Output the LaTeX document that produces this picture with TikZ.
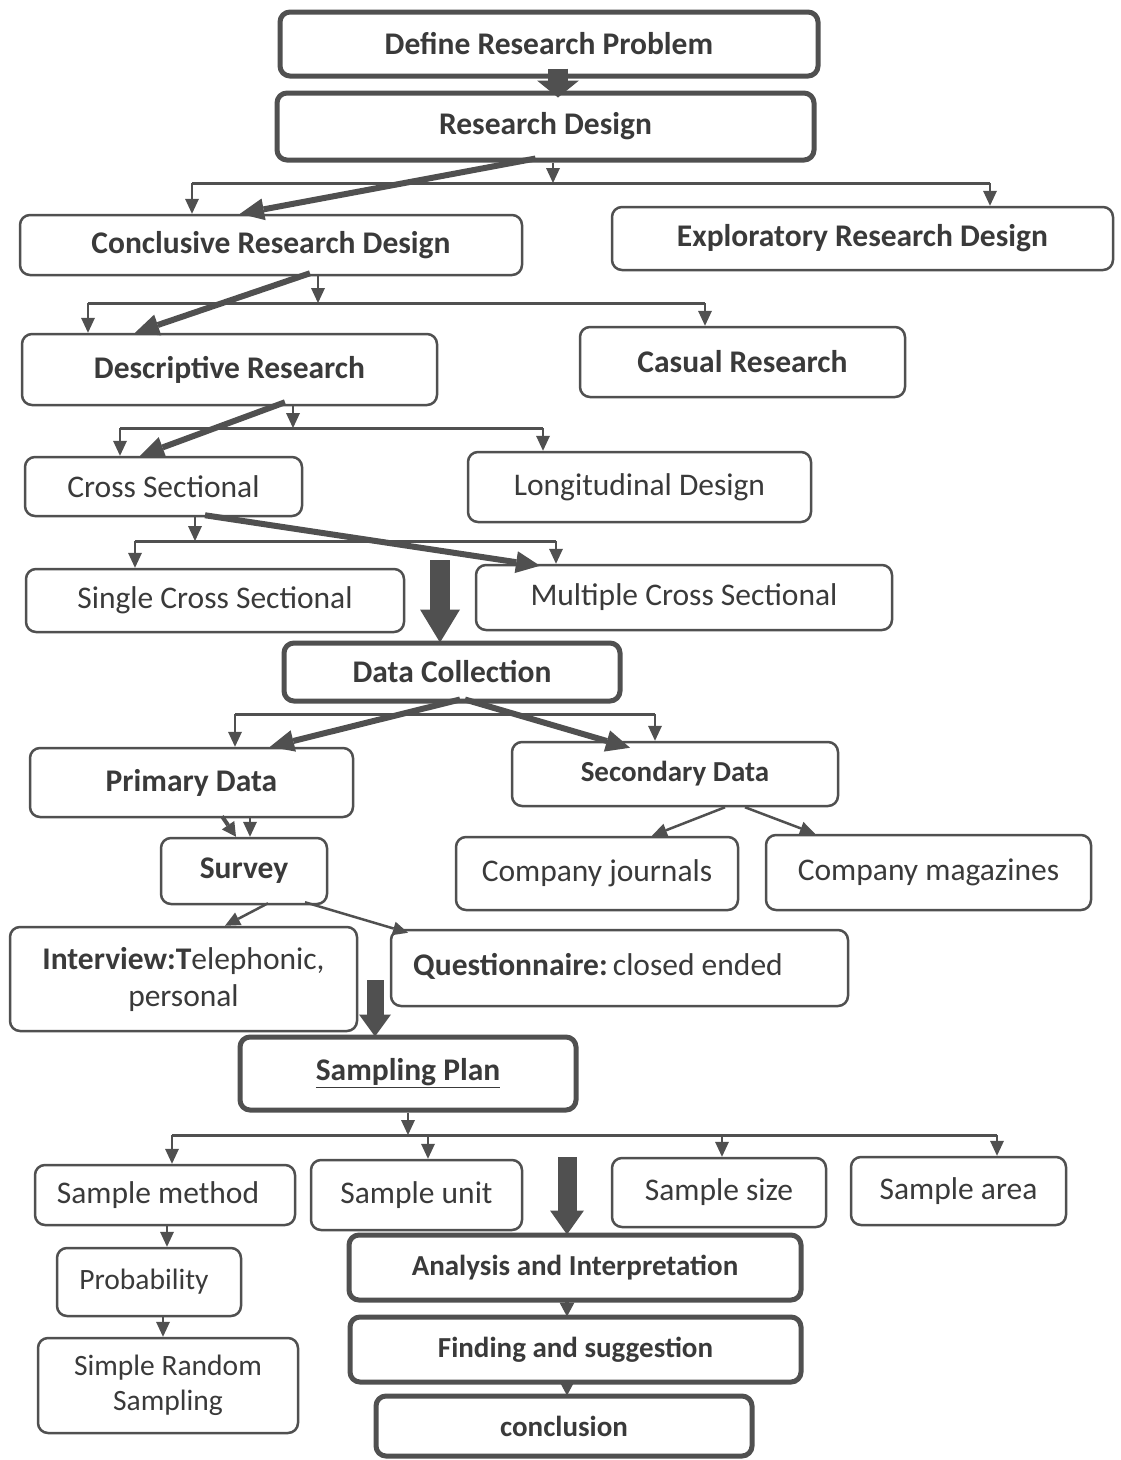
\documentclass[tikz,border=0pt]{standalone}
\usepackage{fontspec}
\setmainfont{Carlito}
\usetikzlibrary{arrows.meta,calc}
\definecolor{ln}{HTML}{505050}
\definecolor{tx}{HTML}{3A3A3A}
\begin{document}
\begin{tikzpicture}[x=1pt,y=-1pt,
  box/.style={draw=ln,line width=2.5pt,rounded corners=10pt,fill=white,text=tx,inner sep=0pt,align=center,font=\fontsize{31.5}{37}\selectfont},
  tbox/.style={box,line width=5pt},
  bf/.style={font=\bfseries\fontsize{31.5}{37}\selectfont},
  bfs/.style={font=\bfseries\fontsize{29}{35}\selectfont},
  sm/.style={font=\fontsize{29.5}{35}\selectfont},
  lbl/.style={text=tx,inner sep=0pt,font=\fontsize{31.5}{37}\selectfont},
  tarr/.style={draw=ln,line width=2.5pt,-{Triangle[length=15pt,width=14pt,line width=0pt]}},
  marr/.style={draw=ln,line width=4pt,-{Triangle[length=14pt,width=15pt,line width=0pt]}},
  bus/.style={draw=ln,line width=3pt},
  darr/.style={draw=ln,line width=6pt,-{Triangle[length=24pt,width=22pt,line width=0pt]}},
  barr/.style={draw=ln,line width=20pt,-{Triangle[length=33pt,width=40pt,line width=0pt]}}
]
\useasboundingbox (0,0) rectangle (1120,1460);
\fill[white] (0,0) rectangle (1120,1460);

% nodes
\node[tbox,bf,minimum width=538pt,minimum height=64pt] (def) at (549,44) {\raisebox{-2pt}{Define Research Problem}};
\node[tbox,bf,minimum width=537pt,minimum height=67pt] (rd) at (545.5,126.5) {\raisebox{-2pt}{Research Design}};
\node[box,bf,minimum width=502pt,minimum height=60pt] (crd) at (271,245) {Conclusive Research Design};
\node[box,bf,minimum width=501pt,minimum height=63pt] (erd) at (862.5,238.5) {Exploratory Research Design};
\node[box,bf,minimum width=415pt,minimum height=71pt] (dr) at (229.5,369.5) {Descriptive Research};
\node[box,bf,minimum width=325pt,minimum height=70pt] (cr) at (742.5,362) {Casual Research};
\node[box,minimum width=277pt,minimum height=59pt] (cs) at (163.5,486.5) {Cross Sectional};
\node[box,minimum width=343pt,minimum height=70pt] (ld) at (639.5,487) {Longitudinal Design};
\node[box,minimum width=378pt,minimum height=63pt] (scs) at (215,600.5) {Single Cross Sectional};
\node[box,minimum width=416pt,minimum height=65pt] (mcs) at (684,597.5) {Multiple Cross Sectional};
\node[tbox,bf,minimum width=336pt,minimum height=58pt] (dc) at (452,672) {\raisebox{-3pt}{Data Collection}};
\node[box,bf,minimum width=323pt,minimum height=69pt] (pd) at (191.5,782.5) {Primary Data};
\node[box,bfs,minimum width=326pt,minimum height=64pt] (sd) at (675,774) {Secondary Data};
\node[box,bf,minimum width=166pt,minimum height=66pt] (sv) at (244,871) {Survey};
\node[box,minimum width=282pt,minimum height=73pt] (cj) at (597,873.5) {Company journals};
\node[box,minimum width=325pt,minimum height=75pt] (cm) at (928.5,872.5) {Company magazines};
\node[box,minimum width=347pt,minimum height=104pt] (iv) at (183.5,979) {\textbf{Interview:T}elephonic,\\personal};
\node[box,minimum width=457pt,minimum height=76pt] (q) at (619.5,968) {};
\node[lbl] (qt) at (598,966) {\textbf{Questionnaire:}\,closed ended};
\node[tbox,bf,minimum width=336pt,minimum height=73pt] (sp) at (408,1073.5) {\underline{Sampling Plan}};
\node[box,minimum width=260pt,minimum height=60pt] (sm) at (165,1195) {\hspace*{-14pt}Sample method};
\node[box,minimum width=211pt,minimum height=70pt] (su) at (416.5,1195) {Sample unit};
\node[box,minimum width=214pt,minimum height=69pt] (ss) at (719,1192.5) {Sample size};
\node[box,minimum width=215pt,minimum height=68pt] (sa) at (958.5,1191) {Sample area};
\node[box,sm,minimum width=184pt,minimum height=68pt] (pr) at (149,1282) {\hspace*{-10pt}Probability};
\node[box,sm,minimum width=260pt,minimum height=95pt] (srs) at (168,1385.5) {Simple Random\\Sampling};
\node[tbox,bfs,minimum width=452pt,minimum height=65pt] (ai) at (575,1267.5) {Analysis and Interpretation};
\node[tbox,bfs,minimum width=451pt,minimum height=65pt] (fs) at (575.5,1349.5) {Finding and suggestion};
\node[tbox,bfs,minimum width=376pt,minimum height=60pt] (cc) at (564,1426) {\raisebox{-4pt}{conclusion}};

% Define -> Research Design
\draw[barr,-{Triangle[length=17pt,width=42pt,line width=0pt]}] ($(def.south)+(9,-10)$) -- ($(rd.north)+(12.5,7)$);

% Research Design bus
\coordinate (j1) at (553,183);
\coordinate (b1l) at (192,183);
\coordinate (b1r) at (990,183);
\draw[tarr] (j1 |- rd.south) -- (j1);
\draw[bus] (b1l) -- (b1r);
\draw[tarr] (b1l) -- (b1l |- crd.north);
\draw[tarr] (b1r) -- (b1r |- erd.north);
\draw[darr] ($(rd.south)+(-10,-4)$) -- ($(crd.north)+(-31,0)$);

% Conclusive bus
\coordinate (j2) at (318,303);
\coordinate (b2l) at (88,303);
\coordinate (b2r) at (705,303);
\draw[tarr] (j2 |- crd.south) -- (j2);
\draw[bus] (b2l) -- (b2r);
\draw[tarr] (b2l) -- (b2l |- dr.north);
\draw[tarr] (b2r) -- (b2r |- cr.north);
\draw[darr] ($(crd.south)+(39,-3)$) -- ($(dr.north)+(-94.5,0)$);

% Descriptive bus
\coordinate (j3) at (293,428);
\coordinate (b3l) at (120,428);
\coordinate (b3r) at (543,428);
\draw[tarr] (j3 |- dr.south) -- (j3);
\draw[bus] (b3l) -- (b3r);
\draw[tarr] (b3l) -- (b3l |- cs.north);
\draw[tarr] (b3r) -- (b3r |- ld.north);
\draw[darr] ($(dr.south)+(55.5,-4)$) -- ($(cs.north)+(-23.5,0)$);

% Cross sectional bus
\coordinate (j4) at (195,541);
\coordinate (b4l) at (135,541);
\coordinate (b4r) at (556,541);
\draw[tarr] (j4 |- cs.south) -- (j4);
\draw[bus] (b4l) -- (b4r);
\draw[tarr] (b4l) -- (b4l |- scs.north);
\draw[tarr] (b4r) -- (b4r |- mcs.north);
\draw[darr] ($(cs.south)+(41.5,-2)$) -- ($(mcs.north)+(-144,2)$);

% big arrow to Data Collection
\coordinate (ba1) at (440,560);
\draw[barr] (ba1) -- ($(ba1 |- dc.north)+(0,2)$);

% Data collection bus
\coordinate (b5l) at (235,714);
\coordinate (b5r) at (655,714);
\draw[bus] (b5l) -- (b5r);
\draw[tarr] (b5l) -- (b5l |- pd.north);
\draw[tarr] (b5r) -- (b5r |- sd.north);
\draw[darr] ($(dc.south)+(8,-4)$) -- ($(pd.north)+(78.5,0)$);
\draw[darr] ($(dc.south)+(13,-4)$) -- ($(sd.north)+(-45,7)$);

% Primary -> Survey
\draw[marr] ($(pd.south)+(30.5,-2)$) -- ($(sv.north)+(-8,0)$);
\draw[tarr] ($(pd.south)+(58.5,0)$) -- ($(sv.north)+(6,0)$);

% Secondary -> companies
\draw[tarr] ($(sd.south)+(50,0)$) -- ($(cj.north)+(55,0)$);
\draw[tarr] ($(sd.south)+(70,0)$) -- ($(cm.north)+(-113.5,0)$);

% Survey -> interview / questionnaire
\draw[tarr] ($(sv.south)+(24,-2)$) -- ($(iv.north)+(41.5,0)$);
\draw[tarr] ($(sv.south)+(61,-3)$) -- ($(q.north)+(-211.5,4)$);

% big arrow to Sampling Plan
\coordinate (ba2) at (375,980);
\draw[draw=ln,line width=17pt,-{Triangle[length=22pt,width=32pt,line width=0pt]}] (ba2) -- ($(ba2 |- sp.north)+(0,2)$);

% Sampling plan bus
\coordinate (j6) at (408,1135);
\coordinate (b6l) at (172,1135);
\coordinate (b6a) at (428,1135);
\coordinate (b6b) at (722,1135);
\coordinate (b6r) at (997,1135);
\draw[tarr] (j6 |- sp.south) -- (j6);
\draw[bus] (b6l) -- (b6r);
\draw[tarr] (b6l) -- (b6l |- sm.north);
\draw[tarr] (b6a) -- (b6a |- su.north);
\draw[tarr] (b6b) -- (b6b |- ss.north);
\draw[tarr] (b6r) -- (b6r |- sa.north);

% big arrow to Analysis
\coordinate (ba3) at (567,1157);
\draw[draw=ln,line width=19pt,-{Triangle[length=24pt,width=34pt,line width=0pt]}] (ba3) -- ($(ba3 |- ai.north)+(0,2)$);

% left chain
\draw[tarr] ($(sm.south)+(2,0)$) -- ($(pr.north)+(18,0)$);
\draw[tarr] ($(pr.south)+(14,0)$) -- ($(srs.north)+(-5,0)$);

% bottom chain
\draw[marr] ($(ai.south)+(-8,-2)$) -- ($(fs.north)+(-8.5,2)$);
\draw[marr] ($(fs.south)+(-8.5,-2)$) -- ($(cc.north)+(3,2)$);
\end{tikzpicture}
\end{document}
